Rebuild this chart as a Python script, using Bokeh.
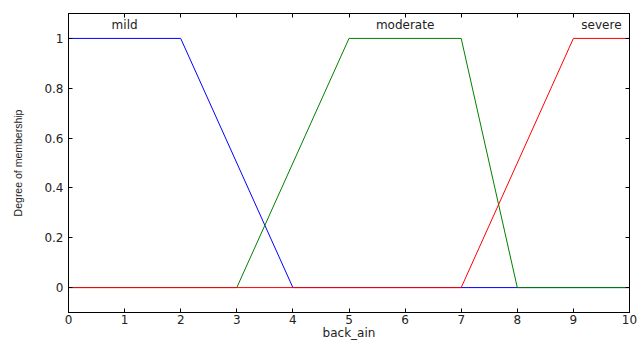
from bokeh.plotting import figure
from bokeh.models import Range1d, LinearAxis, FixedTicker, CustomLabelingPolicy
from bokeh.core.properties import value
from bokeh.embed import file_html
from bokeh.resources import INLINE

# ---- data ----
mf_names = ["mild", "moderate", "severe"]
mild_x = [0, 2, 4, 10]
mild_y = [1, 1, 0, 0]
moderate_x = [0, 3, 5, 7, 8, 10]
moderate_y = [0, 0, 1, 1, 0, 0]
severe_x = [0, 7, 9, 10]
severe_y = [0, 0, 1, 1]
label_x = [1, 6, 9.5]
x_ticks = [0, 1, 2, 3, 4, 5, 6, 7, 8, 9, 10]
y_ticks = [0, 0.2, 0.4, 0.6, 0.8, 1]
y_tick_labels = ["0", "0.2", "0.4", "0.6", "0.8", "1"]
x_label = "back_ain"
y_label = "Degree of membership"

FONT = "DejaVu Sans"
TXT = "#222222"

p = figure(width=640, height=342, x_range=Range1d(0, 10), y_range=Range1d(-0.1, 1.1),
           output_backend="svg", toolbar_location=None,
           min_border_left=68, min_border_right=11, min_border_top=13, min_border_bottom=29,
           x_axis_label=x_label, y_axis_label=y_label)
p.grid.visible = False
p.outline_line_color = "black"
p.outline_line_width = 1
p.background_fill_color = "white"
p.border_fill_color = "white"

def style(ax):
    ax.major_tick_in = 4
    ax.major_tick_out = 0
    ax.minor_tick_in = 0
    ax.minor_tick_out = 0
    ax.axis_line_color = "black"
    ax.major_tick_line_color = "black"
    ax.major_label_text_font = FONT
    ax.major_label_text_font_size = "12px"
    ax.major_label_text_color = TXT
    ax.axis_label_text_font_style = "normal"
    ax.axis_label_text_color = TXT

xa = p.xaxis[0]
style(xa)
xa.ticker = FixedTicker(ticks=x_ticks)
xa.major_label_standoff = 2
xa.axis_label_standoff = -1
xa.axis_label_text_font = FONT
xa.axis_label_text_font_size = "12px"

ya = p.yaxis[0]
style(ya)
ya.ticker = FixedTicker(ticks=y_ticks)
ya.major_label_overrides = dict(zip(y_ticks, y_tick_labels))
ya.major_label_standoff = 5
ya.axis_label_standoff = 17
ya.axis_label_text_font = "Liberation Sans"
ya.axis_label_text_font_size = "10.5px"

# box ticks on top and right (no labels, as in the reference)
hide_all = "return new Set()"

top = LinearAxis(ticker=FixedTicker(ticks=x_ticks))
style(top)
top.major_label_text_font_size = "1px"
top.major_label_standoff = 0
top.major_label_policy = CustomLabelingPolicy(code=hide_all)
p.add_layout(top, "above")

right = LinearAxis(ticker=FixedTicker(ticks=y_ticks))
style(right)
right.major_label_text_font_size = "1px"
right.major_label_standoff = 0
right.major_label_policy = CustomLabelingPolicy(code=hide_all)
p.add_layout(right, "right")

p.line(mild_x, mild_y, line_color="#0000ff", line_width=1)
p.line(moderate_x, moderate_y, line_color="#008000", line_width=1)
p.line(severe_x, severe_y, line_color="#ff0000", line_width=1)

p.text(x=label_x, y=[1.053] * 3, text=mf_names, text_align="center", text_baseline="middle",
       text_font=value(FONT), text_font_size="12px", text_color=TXT)

open("out.html", "w").write(file_html(p, INLINE))
